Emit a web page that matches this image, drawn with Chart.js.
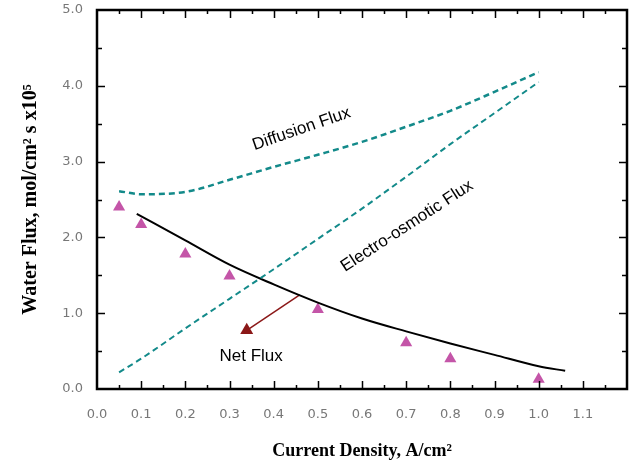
<!DOCTYPE html>
<html>
<head>
<meta charset="utf-8">
<script src="https://cdn.jsdelivr.net/npm/chart.js@4.4.0/dist/chart.umd.min.js"></script>
<style>
  html, body { margin: 0; padding: 0; background: #fff; }
  #wrap { width: 629px; height: 464px; }
</style>
</head>
<body>
<div id="wrap"><canvas id="chart1" width="629" height="464"></canvas></div>
<script>
// Данные
var diffX = [0.05, 0.1, 0.2, 0.3, 0.4, 0.5, 0.6, 0.7, 0.8, 0.9, 1.0];
var diffY = [2.61, 2.57, 2.60, 2.76, 2.93, 3.09, 3.26, 3.46, 3.67, 3.92, 4.18];

var eoX = [0.05, 0.1, 0.2, 0.3, 0.4, 0.5, 0.6, 0.7, 0.8, 0.9, 1.0];
var eoY = [0.22, 0.40, 0.80, 1.19, 1.58, 1.98, 2.38, 2.80, 3.23, 3.64, 4.05];

var netX = [0.09, 0.2, 0.3, 0.4, 0.5, 0.6, 0.7, 0.8, 0.9, 1.0, 1.06];
var netY = [2.31, 1.96, 1.64, 1.38, 1.14, 0.93, 0.76, 0.60, 0.45, 0.30, 0.24];

var measX = [0.05, 0.1, 0.2, 0.3, 0.5, 0.7, 0.8, 1.0];
var measY = [2.40, 2.17, 1.78, 1.49, 1.05, 0.61, 0.40, 0.13];

var arrowX = [0.459, 0.339];
var arrowY = [1.243, 0.775];

var xTicks = [0.0, 0.1, 0.2, 0.3, 0.4, 0.5, 0.6, 0.7, 0.8, 0.9, 1.0, 1.1];
var yTicks = [0.0, 1.0, 2.0, 3.0, 4.0, 5.0];

// подписи на поле графика: текст, x, y, угол
var notes = [
  ['Diffusion Flux', 0.463, 3.43, -19],
  ['Electro-osmotic Flux', 0.702, 2.15, -33],
  ['Net Flux', 0.349, 0.43, 0]
];

function pts(xs, ys) {
  return xs.map(function (x, i) { return { x: x, y: ys[i] }; });
}

var teal = '#138a8a';

// рамка, внутренние засечки и надписи
var framePlugin = {
  id: 'frame',
  afterDatasetsDraw: function (chart) {
    var ctx = chart.ctx;
    var a = chart.chartArea;
    var sx = chart.scales.x, sy = chart.scales.y;
    ctx.save();
    ctx.strokeStyle = '#000';
    ctx.lineWidth = 1.5;
    ctx.beginPath();
    for (var i = 1; i < 24; i++) {
      var v = i * 0.05;
      var px = Math.round(sx.getPixelForValue(v)) + 0.5;
      var len = (i % 2 === 0) ? 8 : 4;
      ctx.moveTo(px, a.bottom); ctx.lineTo(px, a.bottom - len);
      ctx.moveTo(px, a.top); ctx.lineTo(px, a.top + len);
    }
    for (var j = 1; j < 10; j++) {
      var w = j * 0.5;
      var py = Math.round(sy.getPixelForValue(w)) + 0.5;
      var l2 = (j % 2 === 0) ? 8 : 5;
      ctx.moveTo(a.left, py); ctx.lineTo(a.left + l2, py);
      ctx.moveTo(a.right, py); ctx.lineTo(a.right - l2, py);
    }
    ctx.stroke();
    ctx.lineWidth = 2.5;
    ctx.strokeRect(a.left, a.top, a.right - a.left, a.bottom - a.top);

    ctx.fillStyle = '#000';
    ctx.font = '17px "Liberation Sans", Arial, sans-serif';
    ctx.textAlign = 'center';
    ctx.textBaseline = 'middle';
    notes.forEach(function (n) {
      ctx.save();
      ctx.translate(sx.getPixelForValue(n[1]), sy.getPixelForValue(n[2]));
      ctx.rotate(n[3] * Math.PI / 180);
      ctx.fillText(n[0], 0, 0);
      ctx.restore();
    });
    ctx.restore();
  }
};

var chart1 = new Chart(document.getElementById('chart1'), {
  type: 'scatter',
  data: {
    datasets: [{
      data: pts(diffX, diffY),
      showLine: true,
      borderColor: teal,
      borderWidth: 2.5,
      borderDash: [6, 4],
      pointRadius: 0,
      cubicInterpolationMode: 'monotone'
    }, {
      data: pts(eoX, eoY),
      showLine: true,
      borderColor: teal,
      borderWidth: 2,
      borderDash: [6, 4],
      pointRadius: 0,
      cubicInterpolationMode: 'monotone'
    }, {
      data: pts(netX, netY),
      showLine: true,
      borderColor: '#000',
      borderWidth: 2,
      pointRadius: 0,
      cubicInterpolationMode: 'monotone'
    }, {
      data: pts(arrowX, arrowY),
      showLine: true,
      borderColor: '#8b1818',
      borderWidth: 1.5,
      pointStyle: 'triangle',
      pointRadius: [0, 7.5],
      pointBackgroundColor: '#8b1818',
      pointBorderWidth: 0
    }, {
      data: pts(measX, measY),
      pointStyle: 'triangle',
      pointRadius: 7,
      pointBackgroundColor: '#c455a8',
      pointBorderWidth: 0
    }]
  },
  options: {
    responsive: false,
    animation: false,
    events: [],
    // без autoPadding радиус точек не сдвигает рамку
    layout: { autoPadding: false, padding: { left: 0, right: 2, top: 10, bottom: 0 } },
    plugins: { legend: { display: false }, tooltip: { enabled: false } },
    scales: {
      x: {
        type: 'linear',
        min: 0,
        max: 1.2,
        afterBuildTicks: function (s) {
          s.ticks = xTicks.map(function (v) { return { value: v }; });
        },
        afterFit: function (s) { s.height = 75; s.paddingLeft = 0; s.paddingRight = 0; },
        grid: { display: false },
        border: { display: false },
        ticks: {
          padding: 10,
          color: '#777',
          font: { family: '"DejaVu Sans", sans-serif', size: 13 },
          maxRotation: 0,
          autoSkip: false,
          callback: function (v) { return v.toFixed(1); }
        },
        title: {
          display: true,
          text: 'Current Density, A/cm\u00b2',
          color: '#000',
          font: { family: '"Liberation Serif", "Times New Roman", serif', size: 18, weight: 'bold' },
          padding: { top: 0, bottom: 2 }
        }
      },
      y: {
        type: 'linear',
        min: 0,
        max: 5,
        afterBuildTicks: function (s) {
          s.ticks = yTicks.map(function (v) { return { value: v }; });
        },
        afterFit: function (s) { s.width = 97; s.paddingTop = 0; s.paddingBottom = 0; },
        grid: { display: false },
        border: { display: false },
        ticks: {
          padding: 6,
          color: '#777',
          font: { family: '"DejaVu Sans", sans-serif', size: 13 },
          callback: function (v) { return v.toFixed(1); }
        },
        title: {
          display: true,
          text: 'Water Flux, mol/cm\u00b2 s x10\u2075',
          color: '#000',
          font: { family: '"Liberation Serif", "Times New Roman", serif', size: 20, weight: 'bold' },
          padding: { top: 19, bottom: 0 }
        }
      }
    }
  },
  plugins: [framePlugin]
});
</script>
</body>
</html>
